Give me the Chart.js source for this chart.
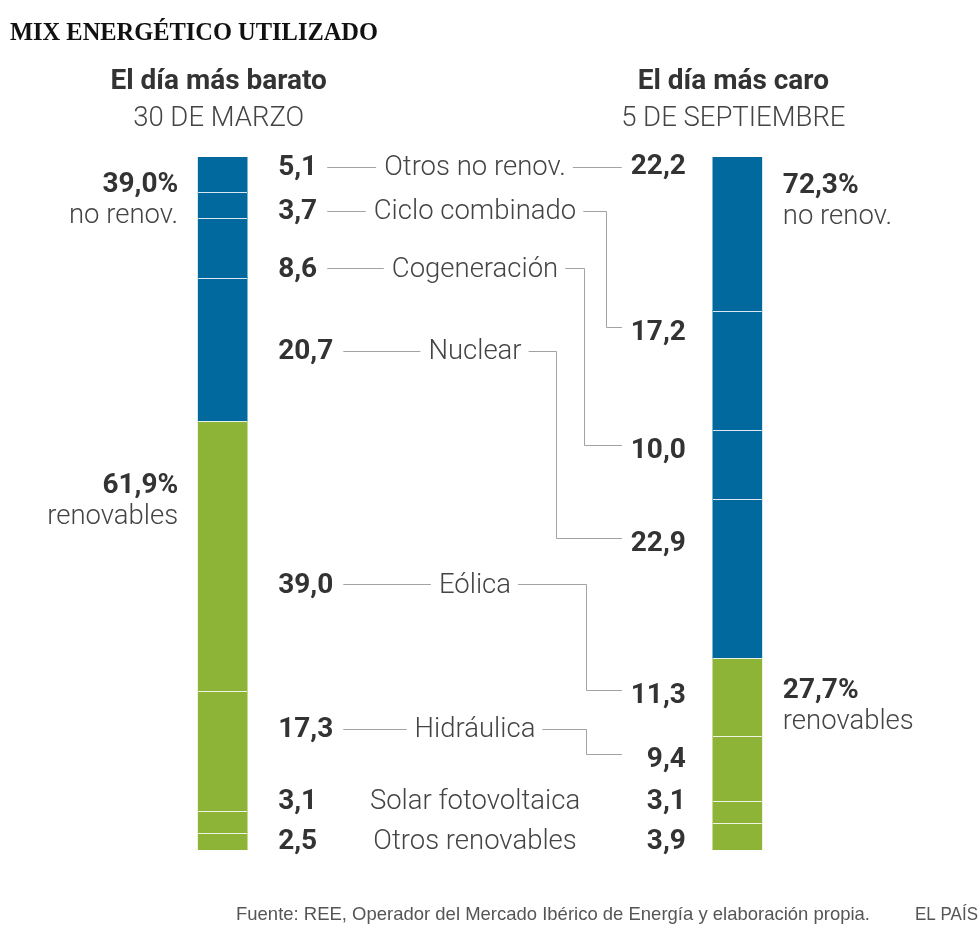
<!DOCTYPE html>
<html lang="es">
<head>
<meta charset="utf-8">
<title>Mix energético utilizado</title>
<script src="https://cdn.jsdelivr.net/npm/chart.js@4.4.1/dist/chart.umd.min.js"></script>
<style>
  html, body { margin: 0; padding: 0; background: #fff; }
  #wrap { position: relative; width: 980px; height: 949px; }
</style>
</head>
<body>
<div id="wrap"><canvas id="mixChart"></canvas></div>
<script>
// Datos (porcentaje de la generación de cada día)
const fuentes = ["Otros no renov.", "Ciclo combinado", "Cogeneración", "Nuclear", "Eólica", "Hidráulica", "Solar fotovoltaica", "Otros renovables"];
const renovable = [false, false, false, false, true, true, true, true];
const diaBarato = [5.1, 3.7, 8.6, 20.7, 39.0, 17.3, 3.1, 2.5];
const diaCaro = [22.2, 17.2, 10.0, 22.9, 11.3, 9.4, 3.1, 3.9];
const dias = ["El día más barato", "", "El día más caro"];
const fechas = ["30 DE MARZO", "", "5 DE SEPTIEMBRE"];
const resumenBarato = [["39,0%", "no renov."], ["61,9%", "renovables"]];
const resumenCaro = [["72,3%", "no renov."], ["27,7%", "renovables"]];

// Colocación de los rótulos, en unidades del eje y (0 arriba, 100 abajo)
const filaIzq = [2.6, 8.95, 17.3, 29.15, 62.9, 83.7, 94.1, 99.85];
const filaDer = [2.45, 26.4, 43.4, 56.85, 78.8, 88.0, 94.1, 99.85];
const resumenIzqAt = [5.05, 48.5];
const resumenDerAt = [5.2, 78.1];
const codoX = [null, 606, 584, 556, 586, 586, null, null];
const conLinea = [true, true, true, true, true, true, false, false];

const AZUL = "#02699f";
const VERDE = "#8db337";
const LINEA = "#a3a3a3";
const FUENTE = "Roboto, 'Noto Sans', sans-serif";
const NEGRITA = "bold 28px " + FUENTE;
const FINA = "300 27.5px " + FUENTE;

const fmt = (v) => v.toFixed(1).replace(".", ",");

const rotulos = {
  id: "rotulos",
  afterDatasetsDraw(chart) {
    const ctx = chart.ctx;
    // separadores blancos entre tramos
    ctx.save();
    ctx.strokeStyle = "rgba(255,255,255,0.85)";
    ctx.lineWidth = 1;
    chart.data.datasets.forEach((ds, i) => {
      if (i === 0) return;
      chart.getDatasetMeta(i).data.forEach((bar, j) => {
        if (ds.data[j] == null) return;
        const y = Math.round(bar.base) + 0.5;
        ctx.beginPath();
        ctx.moveTo(bar.x - bar.width / 2, y);
        ctx.lineTo(bar.x + bar.width / 2, y);
        ctx.stroke();
      });
    });
    ctx.restore();
  },
  afterDraw(chart) {
    const ctx = chart.ctx;
    const x = chart.scales.x;
    const y = chart.scales.y;
    const xb = x.getPixelForValue(0);
    const xc = x.getPixelForValue(2);
    const media = 24.5;
    const colIzq = xb + media + 31;
    const colDer = xc - media - 27;
    const centro = 475;
    const finDer = 622;

    ctx.save();

    // título
    ctx.fillStyle = "#111";
    ctx.font = "bold 26px 'Liberation Serif', serif";
    ctx.textAlign = "left";
    ctx.textBaseline = "alphabetic";
    ctx.fillText("MIX ENERGÉTICO UTILIZADO", 10, 40, 368);

    // cabeceras de cada día
    ctx.textAlign = "center";
    [0, 2].forEach((k) => {
      const px = x.getPixelForValue(k) - 4;
      ctx.fillStyle = "#333";
      ctx.font = NEGRITA;
      ctx.fillText(dias[k], px, 89);
      ctx.fillStyle = "#444";
      ctx.font = FINA;
      ctx.fillText(fechas[k], px, 126);
    });

    // resúmenes no renovables / renovables
    ctx.textAlign = "right";
    resumenBarato.forEach((r, i) => {
      const py = y.getPixelForValue(resumenIzqAt[i]);
      ctx.fillStyle = "#333";
      ctx.font = NEGRITA;
      ctx.fillText(r[0], xb - media - 20, py);
      ctx.fillStyle = "#444";
      ctx.font = FINA;
      ctx.fillText(r[1], xb - media - 20, py + 31);
    });
    ctx.textAlign = "left";
    resumenCaro.forEach((r, i) => {
      const py = y.getPixelForValue(resumenDerAt[i]);
      ctx.fillStyle = "#333";
      ctx.font = NEGRITA;
      ctx.fillText(r[0], xc + media + 21, py);
      ctx.fillStyle = "#444";
      ctx.font = FINA;
      ctx.fillText(r[1], xc + media + 21, py + 31);
    });

    // filas de cada fuente
    fuentes.forEach((f, i) => {
      const yl = y.getPixelForValue(filaIzq[i]);
      const yr = y.getPixelForValue(filaDer[i]);
      const izq = fmt(diaBarato[i]);
      const der = fmt(diaCaro[i]);

      ctx.font = NEGRITA;
      ctx.fillStyle = "#333";
      ctx.textAlign = "left";
      ctx.fillText(izq, colIzq, yl);
      const anchoIzq = ctx.measureText(izq).width;
      ctx.textAlign = "right";
      ctx.fillText(der, colDer, yr);
      const anchoDer = ctx.measureText(der).width;

      ctx.font = FINA;
      ctx.fillStyle = "#444";
      ctx.textAlign = "center";
      ctx.fillText(f, centro, yl);
      const anchoF = ctx.measureText(f).width;

      if (!conLinea[i]) return;
      const ly = Math.round(yl - 8.5) + 0.5;
      ctx.strokeStyle = LINEA;
      ctx.lineWidth = 1;
      ctx.beginPath();
      ctx.moveTo(colIzq + anchoIzq + 10, ly);
      ctx.lineTo(centro - anchoF / 2 - 8, ly);
      ctx.stroke();

      ctx.beginPath();
      ctx.moveTo(centro + anchoF / 2 + 7, ly);
      if (codoX[i] == null) {
        ctx.lineTo(colDer - anchoDer - 9, ly);
      } else {
        const ry = Math.round(yr - 13) + 0.5;
        const cx = Math.round(codoX[i]) + 0.5;
        ctx.lineTo(cx, ly);
        ctx.lineTo(cx, ry);
        ctx.lineTo(finDer, ry);
      }
      ctx.stroke();
    });

    // pie
    ctx.fillStyle = "#555";
    ctx.font = "19px 'Liberation Sans Narrow', 'Liberation Sans', sans-serif";
    ctx.textAlign = "left";
    ctx.fillText("Fuente: REE, Operador del Mercado Ibérico de Energía y elaboración propia.", 236, 920, 634);
    ctx.fillText("EL PAÍS", 915, 920, 63);
    ctx.restore();
  },
};

const ctxMix = document.getElementById("mixChart").getContext("2d");
new Chart(ctxMix, {
  type: "bar",
  data: {
    labels: dias,
    datasets: fuentes.map((f, i) => ({
      label: f,
      data: [diaBarato[i], null, diaCaro[i]],
      backgroundColor: renovable[i] ? VERDE : AZUL,
      borderWidth: 0,
      barThickness: 49,
    })),
  },
  options: {
    responsive: true,
    maintainAspectRatio: false,
    animation: false,
    layout: { padding: { top: 157, bottom: 99, left: 94, right: 114 } },
    scales: {
      x: { stacked: true, display: false },
      y: { stacked: true, display: false, min: 0, max: 100, reverse: true },
    },
    plugins: {
      legend: { display: false },
      tooltip: { enabled: false },
    },
  },
  plugins: [rotulos],
});
</script>
</body>
</html>
